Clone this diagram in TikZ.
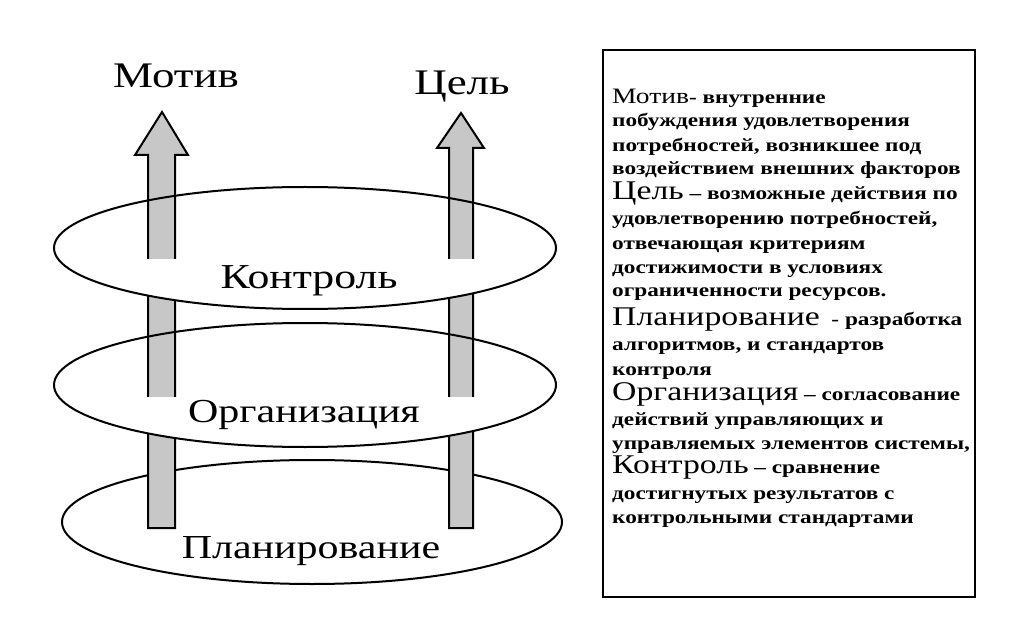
\documentclass[tikz,border=0pt]{standalone}
\usepackage{fontspec}
\setmainfont{Liberation Serif}
\newfontfamily\wideserif{Liberation Serif}[FakeStretch=1.25]
\tikzset{
  ring/.style={draw, line width=2pt},
  shaftstyle/.style={fill=black!22, draw, line width=2pt, line join=miter},
  lbl/.style={font=\wideserif\fontsize{36}{40}\selectfont, inner sep=0pt, anchor=base},
  desc/.style={anchor=base west, inner sep=0pt, font=\wideserif\bfseries\fontsize{18.6}{22}\selectfont},
}
\newcommand{\hd}[1]{{\mdseries\fontsize{27}{29}\selectfont #1}}
\newcommand{\hdsmall}[1]{{\mdseries\fontsize{22}{24}\selectfont #1}}
\begin{document}
\begin{tikzpicture}[x=1pt,y=-1pt]
\useasboundingbox (0,0) rectangle (1026,631);
% bottom ring (behind shafts)
\draw[ring] (312,522) ellipse [x radius=250, y radius=62];
% shafts with heads
\draw[shaftstyle] (148,528) -- (148,155) -- (135,155) -- (162,112) -- (188,155) -- (175,155) -- (175,528) -- cycle;
\draw[shaftstyle] (449,528) -- (449,148) -- (437,148) -- (461,113) -- (484,148) -- (473,148) -- (473,528) -- cycle;
% gaps inside rings
\begin{scope}
  \clip (0,260) rectangle (600,320);
  \fill[white] (305,248) ellipse [x radius=251, y radius=61];
\end{scope}
\begin{scope}
  \clip (0,397) rectangle (600,455);
  \fill[white] (305,385) ellipse [x radius=251, y radius=62];
\end{scope}
% upper rings
\draw[ring] (305,248) ellipse [x radius=251, y radius=61];
\draw[ring] (305,385) ellipse [x radius=251, y radius=62];
% labels
\node[lbl] (motiv) at (176,88) {Мотив};
\node[lbl] (cel) at (462,95) {Цель};
\node[lbl, font=\wideserif\fontsize{35}{40}\selectfont] (kontrol) at (309,288) {Контроль};
\node[lbl, font=\wideserif\fontsize{33.6}{40}\selectfont] (org) at (304,422) {Организация};
\node[lbl, font=\wideserif\fontsize{33.6}{40}\selectfont] (plan) at (311,558) {Планирование};
% right box
\draw[line width=2pt] (603,50) rectangle (975,597);
\node[desc] (d1) at (612,104) {\hdsmall{Мотив}- внутренние};
\node[desc] (d2) at (612,127) {побуждения удовлетворения};
\node[desc] (d3) at (612,152) {потребностей, возникшее под};
\node[desc] (d4) at (612,175) {воздействием внешних факторов};
\node[desc] (d5) at (612,200) {\hd{Цель} – возможные действия по};
\node[desc] (d6) at (612,225) {удовлетворению потребностей,};
\node[desc] (d7) at (612,250) {отвечающая критериям};
\node[desc] (d8) at (612,273) {достижимости в условиях};
\node[desc] (d9) at (612,297) {ограниченности ресурсов.};
\node[desc] (d10) at (612,326) {\hd{Планирование}\ \ - разработка};
\node[desc] (d11) at (612,350) {алгоритмов, и стандартов};
\node[desc] (d12) at (612,375) {контроля};
\node[desc] (d13) at (612,400) {\hd{Организация} – согласование};
\node[desc] (d14) at (612,425) {действий управляющих и};
\node[desc] (d15) at (612,449) {управляемых элементов системы,};
\node[desc] (d16) at (612,473) {\hd{Контроль} – сравнение};
\node[desc] (d17) at (612,499) {достигнутых результатов с};
\node[desc] (d18) at (612,523) {контрольными стандартами};
\end{tikzpicture}
\end{document}
